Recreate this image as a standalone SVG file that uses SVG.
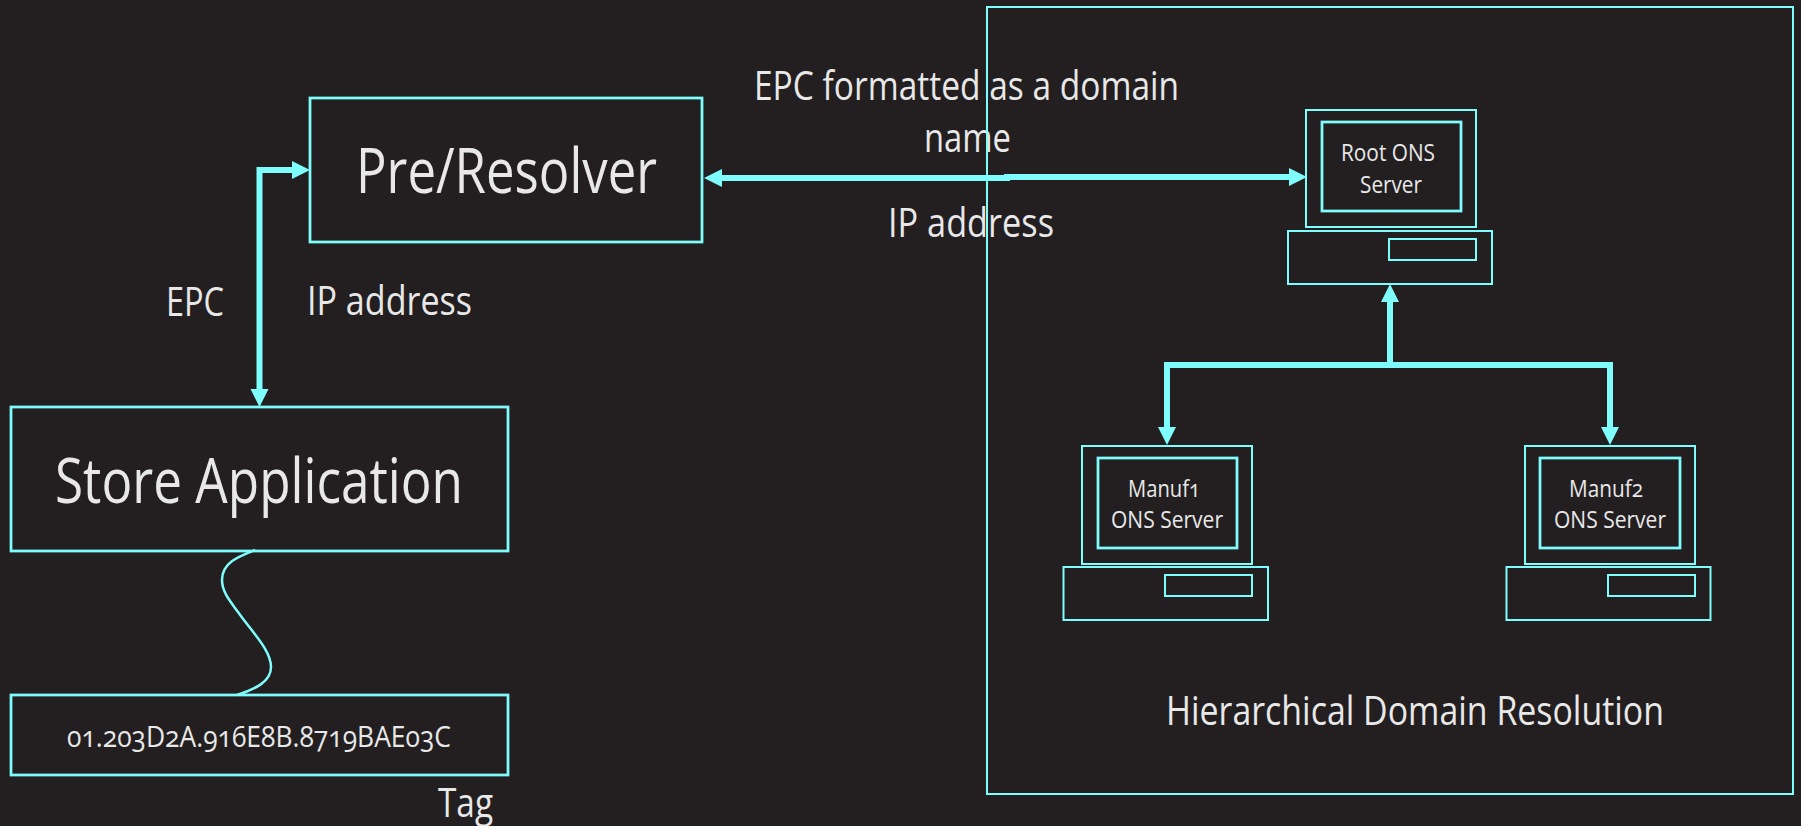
<svg xmlns="http://www.w3.org/2000/svg" width="1801" height="826" viewBox="0 0 1801 826">
<style>
.b{fill:none;stroke:#7ffcfc;stroke-width:2.750}
.t{fill:none;stroke:#7ffcfc;stroke-width:2}
.c{fill:none;stroke:#7ffcfc;stroke-width:6}
.w{fill:none;stroke:#7ffcfc;stroke-width:2.500}
text{font-family:"Open Sans","Liberation Sans",sans-serif;font-weight:400;fill:#e8e8e8;font-variant-numeric:oldstyle-nums;font-feature-settings:"onum"}
.xl{font-size:62px}.l{font-size:40px}.m{font-size:30px}.s{font-size:24px}
</style>
<defs>
<marker id="a" markerUnits="userSpaceOnUse" markerWidth="19" markerHeight="20" refX="1" refY="10" orient="auto-start-reverse"><path d="M0 1L18 10L0 19Z" fill="#7ffcfc"/></marker>
</defs>
<rect width="1801" height="826" fill="#231f20"/>
<g id="labels">
<text class="l" x="166" y="316" textLength="58" lengthAdjust="spacingAndGlyphs">EPC</text>
<text class="l" x="307" y="315" textLength="165" lengthAdjust="spacingAndGlyphs">IP address</text>
<text class="l" x="754" y="100" textLength="425" lengthAdjust="spacingAndGlyphs">EPC formatted as a domain</text>
<text class="l" x="924" y="152" textLength="87" lengthAdjust="spacingAndGlyphs">name</text>
<text class="l" x="888" y="237" textLength="166" lengthAdjust="spacingAndGlyphs">IP address</text>
<text class="l" x="1166" y="725" textLength="498" lengthAdjust="spacingAndGlyphs">Hierarchical Domain Resolution</text>
<text class="l" x="438" y="817" textLength="55" lengthAdjust="spacingAndGlyphs">Tag</text>
</g>
<g id="domain-box"><rect class="t" x="987" y="7" width="806" height="787"/></g>
<g id="pre-resolver"><rect class="b" x="310" y="98" width="392" height="144"/>
<text class="xl" x="356" y="193" textLength="301" lengthAdjust="spacingAndGlyphs">Pre/Resolver</text></g>
<g id="store-application"><rect class="b" x="11" y="407" width="497" height="144"/>
<text class="xl" x="55" y="503" textLength="408" lengthAdjust="spacingAndGlyphs">Store Application</text></g>
<g id="tag"><rect class="b" x="11" y="695" width="497" height="80"/>
<text class="m" x="67" y="747" textLength="384" lengthAdjust="spacingAndGlyphs">01.203D2A.916E8B.8719BAE03C</text></g>
<g id="root-server">
<rect class="t" x="1306" y="110" width="170" height="117"/>
<rect class="b" x="1322" y="122" width="139" height="89"/>
<rect class="t" x="1288" y="231" width="204" height="53"/>
<rect class="t" x="1389" y="239" width="87" height="21"/>
<text class="s" x="1341" y="161" textLength="94" lengthAdjust="spacingAndGlyphs">Root ONS</text>
<text class="s" x="1360" y="193" textLength="62" lengthAdjust="spacingAndGlyphs">Server</text>
</g>
<g id="manuf1-server">
<rect class="t" x="1082" y="446" width="170" height="118"/>
<rect class="b" x="1098" y="458" width="139" height="90"/>
<rect class="t" x="1063.500" y="567" width="204.500" height="53"/>
<rect class="t" x="1165" y="575" width="87" height="21"/>
<text class="s" x="1128" y="497" textLength="72" lengthAdjust="spacingAndGlyphs">Manuf1</text>
<text class="s" x="1111" y="528" textLength="112" lengthAdjust="spacingAndGlyphs">ONS Server</text>
</g>
<g id="manuf2-server">
<rect class="t" x="1525" y="446" width="170" height="118"/>
<rect class="b" x="1540" y="458" width="140" height="90"/>
<rect class="t" x="1506.500" y="567" width="204" height="53"/>
<rect class="t" x="1608" y="575" width="87" height="21"/>
<text class="s" x="1569" y="497" textLength="74" lengthAdjust="spacingAndGlyphs">Manuf2</text>
<text class="s" x="1554" y="528" textLength="112" lengthAdjust="spacingAndGlyphs">ONS Server</text>
</g>
<g id="connectors">
<path class="c" d="M293 170H259.500V390" marker-start="url(#a)" marker-end="url(#a)"/>
<path class="c" d="M1010 178H721" marker-end="url(#a)"/>
<path class="c" d="M1004 177H1290" marker-end="url(#a)"/>
<path class="c" d="M1390 368V301" marker-end="url(#a)"/>
<path class="c" d="M1167 428V365H1610V428" marker-start="url(#a)" marker-end="url(#a)"/>
<path class="w" d="M255 550C240 556 222 562 222 580C222 592 230 601 238 612C252 632 271 650 271 667C271 682 255 689 237 695"/>
</g>
</svg>
